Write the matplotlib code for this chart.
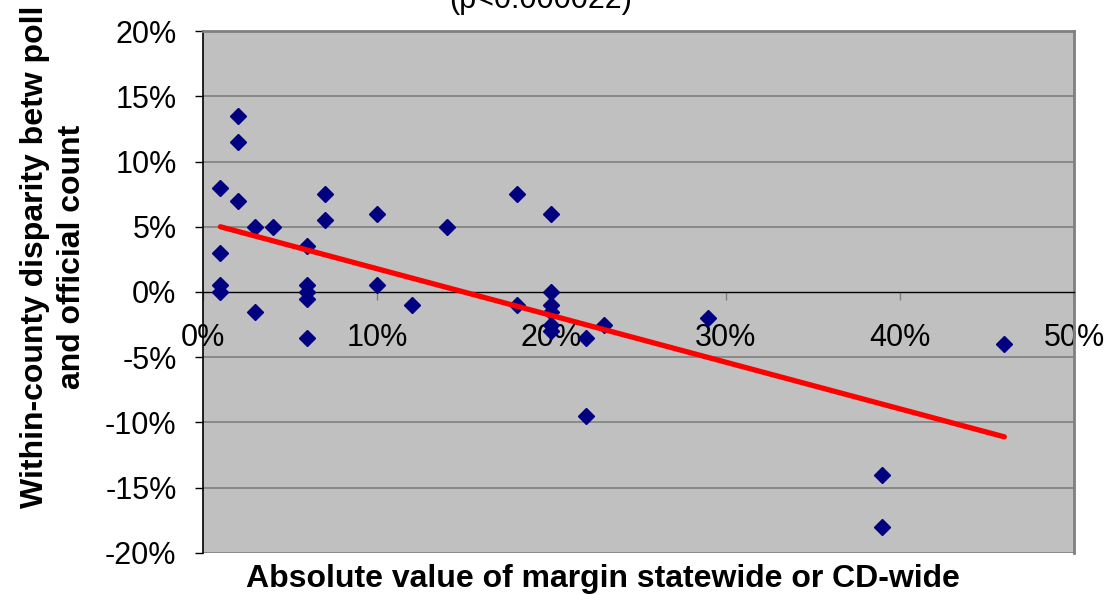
import matplotlib.pyplot as plt
from matplotlib.ticker import FuncFormatter

plt.rcParams['font.family'] = ['Liberation Sans', 'DejaVu Sans']

# margin (%) vs disparity (%)
margin = [1, 1, 1, 1, 2, 2, 2, 3, 3, 4, 6, 6, 6, 6, 6, 7, 7, 10, 10, 12, 14,
          18, 18, 20, 20, 20, 20, 20, 20, 22, 22, 23, 29, 39, 39, 46]
disparity = [8, 3, 0.5, 0, 13.5, 11.5, 7, 5, -1.5, 5, 3.5, 0.5, 0, -0.5, -3.5,
             7.5, 5.5, 6, 0.5, -1, 5, 7.5, -1, 6, 0, -1, -1.5, -2.5, -3, -3.5,
             -9.5, -2.5, -2, -14, -18, -4]

# trend line endpoints
trend_x = [1, 46]
trend_y = [5.0, -11.1]

x_ticks = [0, 10, 20, 30, 40, 50]
y_ticks = [-20, -15, -10, -5, 0, 5, 10, 15, 20]

fig = plt.figure(figsize=(11.14, 6.01), dpi=100)
ax = fig.add_axes([0.1822, 0.0799, 0.7819, 0.8685])
ax.set_facecolor('#C0C0C0')

for y in y_ticks:
    if y != 0:
        ax.axhline(y, color='#808080', lw=1.2, zorder=1)

ax.plot(margin, disparity, 'D', color='#000080', markersize=8.5, zorder=3)
ax.plot(trend_x, trend_y, color='#FF0000', lw=3.8, solid_capstyle='round', zorder=4)

ax.set_xlim(0, 50)
ax.set_ylim(-20, 20)
ax.set_xticks(x_ticks)
ax.set_yticks(y_ticks)
pct = FuncFormatter(lambda v, p: f'{v:.0f}%')
ax.xaxis.set_major_formatter(pct)
ax.yaxis.set_major_formatter(pct)

ax.spines['bottom'].set_position(('data', 0))
ax.spines['bottom'].set_color('black')
ax.spines['bottom'].set_linewidth(1)
ax.spines['left'].set_color('black')
ax.spines['left'].set_linewidth(1.2)
for s in ['top', 'right']:
    ax.spines[s].set_color('#808080')
    ax.spines[s].set_linewidth(2)

ax.tick_params(axis='x', direction='out', length=6, width=1, color='#808080',
               labelsize=22, pad=16)
ax.tick_params(axis='y', direction='out', length=6, width=1, color='black',
               labelsize=22, pad=13)

fig.text(0.485, 1.0, '(p<0.000022)', ha='center', va='center', fontsize=22)
fig.text(0.541, 0.036, 'Absolute value of margin statewide or CD-wide',
         ha='center', va='center', fontsize=23, fontweight='bold')
fig.text(0.048, 0.572, 'Within-county disparity betw poll\nand official count',
         ha='center', va='center', rotation=90, fontsize=23, fontweight='bold',
         linespacing=1.3)

fig.savefig('out.png', dpi=100)
